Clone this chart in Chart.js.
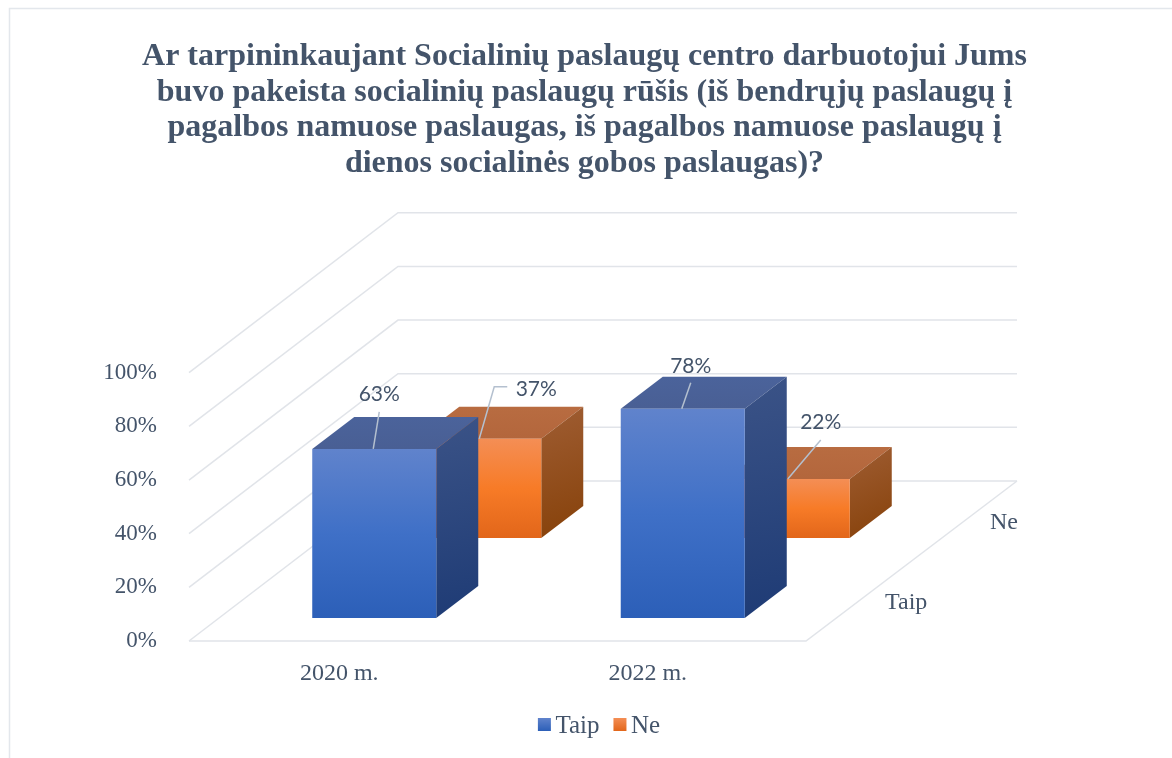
<!DOCTYPE html>
<html lang="lt">
<head>
<meta charset="utf-8">
<style>html,body{margin:0;padding:0;background:#fff}canvas{display:block}</style>
<script src="https://cdn.jsdelivr.net/npm/chart.js@4"></script>
</head>
<body>
<canvas id="c" width="1172" height="758"></canvas>
<script>
const categories = ['2020 m.', '2022 m.'];
const depthLabels = ['Taip', 'Ne'];
const taipValues = [63, 78];
const neValues = [37, 22];
const yTicks = [0, 20, 40, 60, 80, 100];
const titleLines = [
  'Ar tarpininkaujant Socialinių paslaugų centro darbuotojui Jums',
  'buvo pakeista socialinių paslaugų rūšis (iš bendrųjų paslaugų į',
  'pagalbos namuose paslaugas, iš pagalbos namuose paslaugų į',
  'dienos socialinės gobos paslaugas)?'
];

const TEXT = '#44546a', GRID = '#e1e4e9', LEADER = '#b4c0cf';
const SERIF = '"Liberation Serif", serif';
const WALL = {dx: 209, dy: -160}, RIGHT_EXTRA = 2;
const shifts = [{dx: 31, dy: -23}, {dx: 136, dy: -103}];
const DEPTH = {dx: 42, dy: -32};
const LEGEND_PAD = 14, SWATCH = 13;
const faces = [
  {top: ['#4b639b', '#495f94'], side: ['#3b5387', '#1e3b75'], front: ['#6083cc', '#3f70c7', '#2c5fb8']},
  {top: ['#b86c41', '#b3663c'], side: ['#9f5d33', '#864109'], front: ['#f48e55', '#f77b27', '#e2661a']}
];
const leaders = [
  [[[-1, 0], [5, -37]], [[0, 0], [15, -52], [28, -52]]],
  [[[-1, 0], [8, -26]], [[0, 0], [33, -39]]]
];
const labelPos = [
  [[5, -55], [57, -50]],
  [[8, -43], [33, -57]]
];

function frontGradient(ctx) {
  const i = ctx.datasetIndex;
  const stops = faces[i].front;
  if (ctx.type !== 'data') return stops[1];
  const y = ctx.chart.scales.y;
  const g = ctx.chart.ctx.createLinearGradient(0, y.getPixelForValue(ctx.raw), 0, y.getPixelForValue(0));
  g.addColorStop(0, stops[0]); g.addColorStop(0.5, stops[1]); g.addColorStop(1, stops[2]);
  return g;
}

function poly(ctx, pts, fill) {
  ctx.beginPath();
  pts.forEach((p, i) => i ? ctx.lineTo(p[0], p[1]) : ctx.moveTo(p[0], p[1]));
  ctx.closePath();
  ctx.fillStyle = fill;
  ctx.fill();
}

const box3d = {
  id: 'box3d',
  beforeDraw(chart) {
    const c = chart.ctx;
    c.save();
    c.fillStyle = '#fff';
    c.fillRect(0, 0, chart.width, chart.height);
    c.strokeStyle = '#e3e7ec';
    c.lineWidth = 1.5;
    c.beginPath();
    c.moveTo(9.5, chart.height);
    c.lineTo(9.5, 8.5);
    c.lineTo(chart.width, 8.5);
    c.stroke();
    c.restore();
  },
  afterLayout(chart) {
    const l = chart.legend;
    l.left += 13; l.right += 13;
    l.top -= 9; l.bottom -= 9;
    const t = chart.titleBlock;
    t.left -= 1.5; t.right -= 1.5;
    t.top += 3; t.bottom += 3;
  },
  beforeDatasetsDraw(chart) {
    const c = chart.ctx, x = chart.scales.x, y = chart.scales.y;
    const L = x.left, R = x.right, B = y.getPixelForValue(0);
    c.save();
    c.strokeStyle = GRID;
    c.lineWidth = 1.5;
    yTicks.forEach(v => {
      const p = y.getPixelForValue(v);
      c.beginPath();
      c.moveTo(L, p);
      c.lineTo(L + WALL.dx, p + WALL.dy);
      c.lineTo(R + WALL.dx + RIGHT_EXTRA, p + WALL.dy);
      c.stroke();
    });
    c.beginPath();
    c.moveTo(L, B);
    c.lineTo(R, B);
    c.lineTo(R + WALL.dx + RIGHT_EXTRA, B + WALL.dy);
    c.stroke();
    c.fillStyle = TEXT;
    c.font = '24px ' + SERIF;
    c.textAlign = 'left';
    c.textBaseline = 'middle';
    depthLabels.forEach((t, i) => {
      const s = shifts[i];
      c.fillText(t, R + s.dx + 48, B + s.dy - 15);
    });
    c.restore();
  },
  beforeDatasetDraw(chart, args) {
    const i = args.index, c = chart.ctx, s = shifts[i], f = faces[i];
    c.save();
    c.translate(s.dx, s.dy);
    chart.getDatasetMeta(i).data.forEach(el => {
      const l = el.x - el.width / 2, r = el.x + el.width / 2, t = el.y, b = el.base;
      const tg = c.createLinearGradient(0, t + DEPTH.dy, 0, t);
      tg.addColorStop(0, f.top[0]); tg.addColorStop(1, f.top[1]);
      poly(c, [[l, t], [l + DEPTH.dx, t + DEPTH.dy], [r + DEPTH.dx, t + DEPTH.dy], [r, t]], tg);
      const sg = c.createLinearGradient(r, t + DEPTH.dy, r + DEPTH.dx, b);
      sg.addColorStop(0, f.side[0]); sg.addColorStop(1, f.side[1]);
      poly(c, [[r, t], [r + DEPTH.dx, t + DEPTH.dy], [r + DEPTH.dx, b + DEPTH.dy], [r, b]], sg);
    });
  },
  afterDatasetDraw(chart) {
    chart.ctx.restore();
  },
  afterDatasetsDraw(chart) {
    const c = chart.ctx;
    c.save();
    chart.data.datasets.forEach((ds, i) => {
      const s = shifts[i];
      chart.getDatasetMeta(i).data.forEach((el, j) => {
        const ax = el.x + s.dx, ay = el.y + s.dy;
        c.strokeStyle = LEADER;
        c.lineWidth = 1.5;
        c.beginPath();
        leaders[j][i].forEach((p, k) => k ? c.lineTo(ax + p[0], ay + p[1]) : c.moveTo(ax + p[0], ay + p[1]));
        c.stroke();
        c.fillStyle = TEXT;
        c.font = '21px Lato, sans-serif';
        c.textAlign = 'center';
        c.textBaseline = 'middle';
        c.fillText(ds.data[j] + '%', ax + labelPos[j][i][0], ay + labelPos[j][i][1]);
      });
    });
    c.restore();
  },
  afterDraw(chart) {
    const l = chart.legend, c = chart.ctx;
    let x = (l.left + LEGEND_PAD + l.right - l.lineWidths[0]) / 2;
    const cy = (l.top + l.bottom) / 2;
    c.save();
    l.legendItems.forEach((item, i) => {
      const top = cy - SWATCH / 2;
      const g = c.createLinearGradient(0, top, 0, top + SWATCH);
      g.addColorStop(0, faces[i].front[0]);
      g.addColorStop(1, faces[i].front[2]);
      c.fillStyle = g;
      c.fillRect(x, top, SWATCH, SWATCH);
      x += l.legendHitBoxes[i].width + LEGEND_PAD;
    });
    c.restore();
  }
};

new Chart(document.getElementById('c'), {
  type: 'bar',
  data: {
    labels: categories,
    datasets: [
      {label: 'Taip', data: taipValues, order: 0, clip: false, backgroundColor: frontGradient},
      {label: 'Ne', data: neValues, order: 1, clip: false, backgroundColor: frontGradient}
    ]
  },
  plugins: [box3d],
  options: {
    responsive: false,
    animation: false,
    devicePixelRatio: 1,
    layout: {padding: 0},
    datasets: {bar: {grouped: false, barPercentage: 0.402, categoryPercentage: 1, borderWidth: 0}},
    plugins: {
      tooltip: {enabled: false},
      title: {
        display: true,
        text: titleLines,
        color: TEXT,
        font: {family: SERIF, size: 32, weight: 'bold', lineHeight: 1.115},
        padding: {top: 36, bottom: 194}
      },
      legend: {
        position: 'bottom',
        onClick: null,
        labels: {
          color: TEXT,
          font: {family: SERIF, size: 25},
          boxWidth: 5,
          boxHeight: 5,
          padding: LEGEND_PAD,
          generateLabels: chart => chart.data.datasets.map((d, i) => ({
            text: d.label, fillStyle: 'rgba(0,0,0,0)', strokeStyle: 'rgba(0,0,0,0)', lineWidth: 0, fontColor: TEXT, datasetIndex: i
          }))
        }
      }
    },
    scales: {
      x: {
        type: 'category',
        grid: {display: false},
        border: {display: false},
        ticks: {color: TEXT, font: {family: SERIF, size: 24}, padding: 10, labelOffset: -4, maxRotation: 0},
        afterFit(s) { s.height = 68; }
      },
      y: {
        type: 'linear',
        min: 0,
        max: 100,
        grid: {display: false},
        border: {display: false},
        afterBuildTicks(s) { s.ticks = yTicks.map(v => ({value: v})); },
        ticks: {color: TEXT, font: {family: SERIF, size: 23}, padding: 24, callback: v => v + '%'},
        afterFit(s) { s.width = 189; }
      },
      depth: {
        type: 'category',
        labels: depthLabels,
        position: 'right',
        grid: {display: false},
        border: {display: false},
        ticks: {display: false},
        afterFit(s) { s.width = 366; }
      }
    }
  }
});
</script>
</body>
</html>
